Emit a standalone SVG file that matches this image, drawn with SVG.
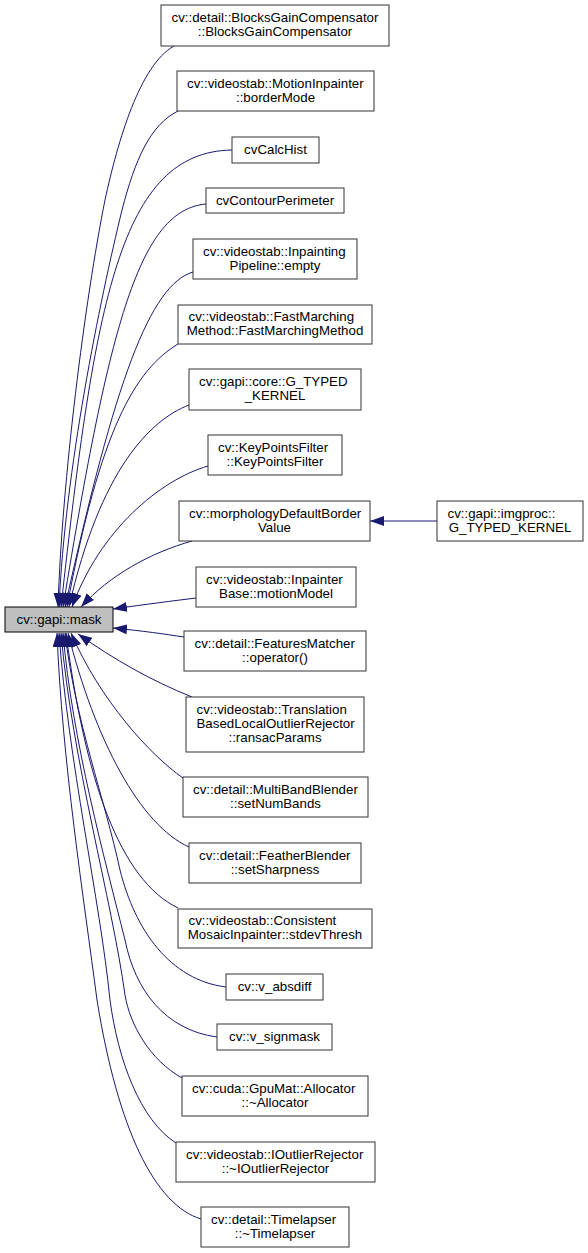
<svg xmlns="http://www.w3.org/2000/svg" width="588" height="1253" viewBox="0 0 588 1253">
<style>
.n rect{fill:#ffffff;stroke:#333333;stroke-width:1}
.n text{font-family:"Liberation Sans",Arial,sans-serif;font-size:13.3px;fill:#000}
.c{text-anchor:middle}
#mask rect{fill:#bfbfbf;stroke:#000}
.e path{fill:none;stroke:#191970;stroke-width:1;marker-end:url(#ah)}
</style>
<defs>
<marker id="ah" markerUnits="userSpaceOnUse" markerWidth="14" markerHeight="10" refX="14" refY="5" orient="auto" viewBox="0 0 14 10">
<path d="M0,0 L14,5 L0,10 z" fill="#191970" stroke="none"/>
</marker>
</defs>
<rect width="588" height="1253" fill="#fff"/>
<g id="connectors" class="e">
<path d="M174,46 C140,65 118,140 105,200 C85,300 62,480 58,607"/>
<path d="M178,111 C150,125 135,160 122,210 C100,300 65,470 59,607"/>
<path d="M232,150 C120,152 95,300 61,607"/>
<path d="M206,204 C140,210 110,320 63,607"/>
<path d="M193,272 C150,285 115,380 65,607"/>
<path d="M178,344 C135,370 100,430 67,607"/>
<path d="M189,405 C150,420 100,470 69,607"/>
<path d="M208,466 C160,480 100,530 72,607"/>
<path d="M192,541 C150,553 110,575 81,607"/>
<path d="M196,598 C172,601 148,604 113,609"/>
<path d="M184,637 C164,634 144,631 113,628"/>
<path d="M192,697 C150,680 115,660 78,634"/>
<path d="M183,778 C150,755 100,700 71,633"/>
<path d="M189,847 C140,825 95,740 68,633"/>
<path d="M178,908 C120,880 85,780 66,633"/>
<path d="M226,987 C170,980 135,930 120,870 C105,800 75,720 65,633"/>
<path d="M217,1037 C165,1030 135,990 125,940 C105,860 72,740 63,633"/>
<path d="M182,1078 C150,1060 130,1025 125,995 C112,900 72,760 61,633"/>
<path d="M176,1143 C140,1120 118,1060 110,1000 C100,900 68,760 59,633"/>
<path d="M201,1219 C155,1205 118,1130 97,1000 C84,900 62,760 57,633"/>
<path d="M437,521 L370,521"/>
</g>
<g id="mask" class="n"><rect x="5" y="607" width="108" height="25"/><text class="c" x="59" y="623.5">cv::gapi::mask</text></g>
<g id="n1" class="n"><rect x="161" y="5" width="228" height="41"/><text x="171.5" y="22.25">cv::detail::BlocksGainCompensator</text><text class="c" x="275" y="36.25">::BlocksGainCompensator</text></g>
<g id="n2" class="n"><rect x="177" y="71" width="197" height="40"/><text x="187" y="87.75">cv::videostab::MotionInpainter</text><text class="c" x="275.5" y="101.75">::borderMode</text></g>
<g id="n3" class="n"><rect x="232" y="137" width="87" height="26"/><text class="c" x="275.5" y="154">cvCalcHist</text></g>
<g id="n4" class="n"><rect x="206" y="188" width="138" height="25"/><text class="c" x="275" y="204.5">cvContourPerimeter</text></g>
<g id="n5" class="n"><rect x="193" y="239" width="164" height="40"/><text x="203" y="255.75">cv::videostab::Inpainting</text><text class="c" x="275" y="269.75">Pipeline::empty</text></g>
<g id="n6" class="n"><rect x="178" y="305" width="194" height="39"/><text x="188.5" y="321.25">cv::videostab::FastMarching</text><text class="c" x="275" y="335.25">Method::FastMarchingMethod</text></g>
<g id="n7" class="n"><rect x="189" y="369" width="172" height="41"/><text x="199" y="386.25">cv::gapi::core::G_TYPED</text><text class="c" x="275" y="400.25">_KERNEL</text></g>
<g id="n8" class="n"><rect x="208" y="435" width="134" height="40"/><text x="218" y="451.75">cv::KeyPointsFilter</text><text class="c" x="275" y="465.75">::KeyPointsFilter</text></g>
<g id="n9" class="n"><rect x="179" y="501" width="191" height="40"/><text x="189" y="517.75">cv::morphologyDefaultBorder</text><text class="c" x="274.5" y="531.75">Value</text></g>
<g id="n10" class="n"><rect x="437" y="501" width="146" height="40"/><text x="447.5" y="517.75">cv::gapi::imgproc::</text><text class="c" x="510" y="531.75">G_TYPED_KERNEL</text></g>
<g id="n11" class="n"><rect x="196" y="567" width="160" height="40"/><text x="206" y="583.75">cv::videostab::Inpainter</text><text class="c" x="276" y="597.75">Base::motionModel</text></g>
<g id="n12" class="n"><rect x="184" y="631" width="182" height="40"/><text x="194.5" y="647.75">cv::detail::FeaturesMatcher</text><text class="c" x="275" y="661.75">::operator()</text></g>
<g id="n13" class="n"><rect x="186" y="697" width="178" height="55"/><text x="196.5" y="714.25">cv::videostab::Translation</text><text x="196.5" y="728.25">BasedLocalOutlierRejector</text><text class="c" x="275" y="742.25">::ransacParams</text></g>
<g id="n14" class="n"><rect x="183" y="777" width="185" height="40"/><text x="193" y="793.75">cv::detail::MultiBandBlender</text><text class="c" x="275.5" y="807.75">::setNumBands</text></g>
<g id="n15" class="n"><rect x="189" y="843" width="172" height="40"/><text x="199" y="859.75">cv::detail::FeatherBlender</text><text class="c" x="275" y="873.75">::setSharpness</text></g>
<g id="n16" class="n"><rect x="178" y="909" width="194" height="39"/><text x="188.5" y="925.25">cv::videostab::Consistent</text><text class="c" x="275" y="939.25">MosaicInpainter::stdevThresh</text></g>
<g id="n17" class="n"><rect x="226" y="974" width="97" height="26"/><text class="c" x="274.5" y="991">cv::v_absdiff</text></g>
<g id="n18" class="n"><rect x="217" y="1024" width="115" height="26"/><text class="c" x="274.5" y="1041">cv::v_signmask</text></g>
<g id="n19" class="n"><rect x="182" y="1076" width="186" height="40"/><text x="192" y="1092.75">cv::cuda::GpuMat::Allocator</text><text class="c" x="275" y="1106.75">::~Allocator</text></g>
<g id="n20" class="n"><rect x="176" y="1142" width="199" height="40"/><text x="186" y="1158.75">cv::videostab::IOutlierRejector</text><text class="c" x="275.5" y="1172.75">::~IOutlierRejector</text></g>
<g id="n21" class="n"><rect x="201" y="1207" width="148" height="40"/><text x="211" y="1223.75">cv::detail::Timelapser</text><text class="c" x="275" y="1237.75">::~Timelapser</text></g>
</svg>
